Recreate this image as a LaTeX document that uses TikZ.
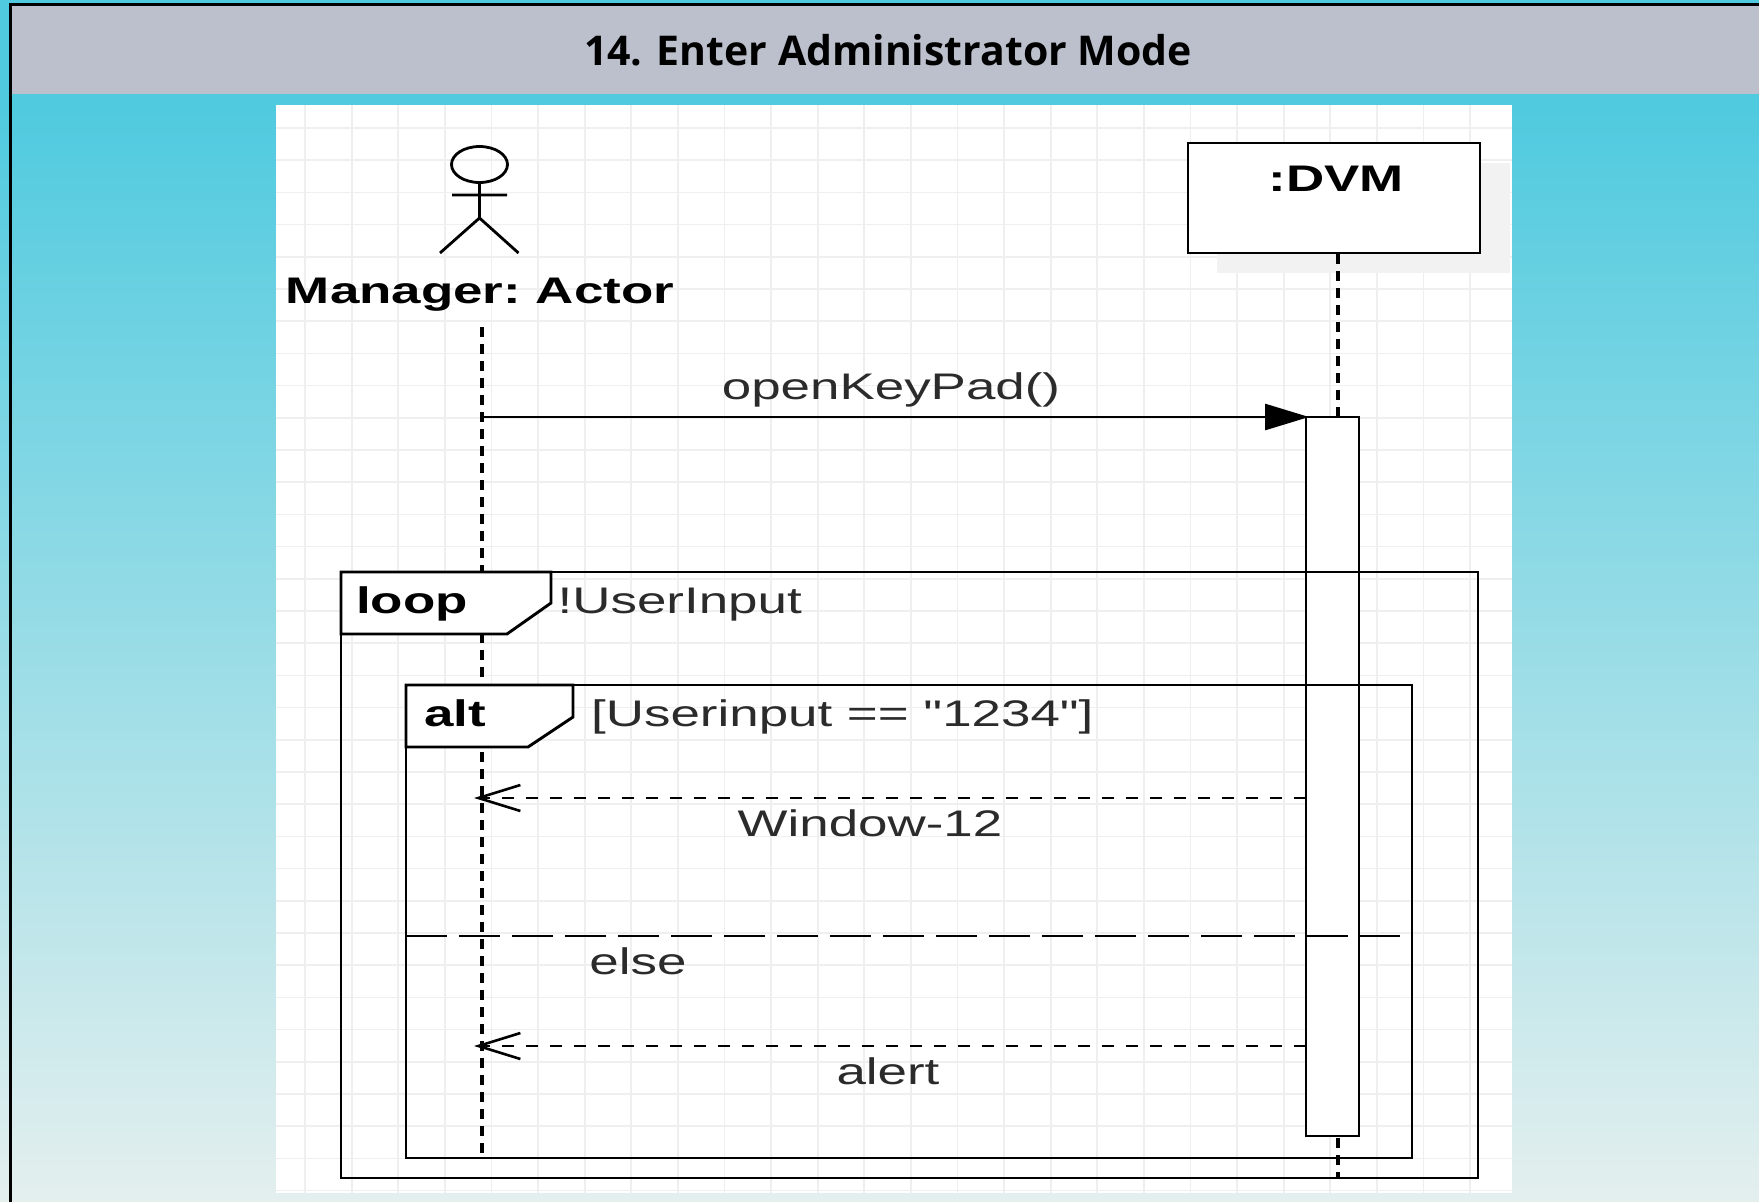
\documentclass[tikz,border=0pt]{standalone}
\usepackage{fontspec}
\setmainfont{Liberation Sans}[FakeStretch=1.43,Ligatures=TeXOff]
\newfontfamily\titlefont{Open Sans}
\usetikzlibrary{arrows.meta}
\definecolor{headgrey}{HTML}{BBC0CC}
\definecolor{skytop}{HTML}{4FCADF}
\definecolor{skybottom}{HTML}{E4EFEE}
\definecolor{gridgrey}{HTML}{EFEFEF}
\definecolor{shadowgrey}{HTML}{F2F2F2}
\definecolor{msggrey}{HTML}{2B2B2B}
\tikzset{
  diagline/.style={line width=2.9pt,black},
  lifeline/.style={line width=4pt,black,dash pattern=on 9.5pt off 7.5pt},
  plaintext/.style={inner sep=0pt,text=msggrey,font=\fontsize{37}{42}\selectfont},
  boldtext/.style={inner sep=0pt,text=black,font=\fontsize{37}{42}\selectfont\bfseries\frenchspacing},
  callmsg/.style={line width=2.8pt,shorten >=-3pt,-{Triangle[length=44pt,width=26pt]}},
  returnmsg/.style={line width=2.6pt,dash pattern=on 12pt off 12pt,-{Straight Barb[length=42pt,width=26pt,line width=2.6pt]}},
  framebox/.style={diagline,draw,rectangle,inner sep=0pt,outer sep=0pt,anchor=north west},
}
\begin{document}
\begin{tikzpicture}[x=1pt,y=-1pt]
      \useasboundingbox (0,0) rectangle (1759,1202);
      \shade[top color=skytop,bottom color=skybottom] (0,100) rectangle (1759,1202);
      \fill[skytop] (0,0) rectangle (1759,101);
      \fill[headgrey] (11,6) rectangle (1759,94);
      \draw[line width=3pt,black] (10,1202) -- (10,4.5) -- (1759,4.5);
      \node[inner sep=0pt,font=\titlefont\fontsize{41}{48}\selectfont\bfseries] (title) at (888,50) {14. Enter Administrator Mode};
      \fill[white] (276,105) rectangle (1512,1193);
      % grid
      \foreach \k [evaluate=\k as \gx using 305+46.6*\k] in {0,...,25}
        \draw[gridgrey,line width=1.8pt] (\gx,105) -- (\gx,1193);
      \foreach \k [evaluate=\k as \gy using 128+32.2*\k] in {0,...,33}
        \draw[gridgrey,line width=1.5pt] (276,\gy) -- (1512,\gy);
      % actor
      \draw[line width=2.8pt] (479.5,164.5) ellipse [x radius=28,y radius=18];
      \draw[line width=2.8pt] (479.5,182.5) -- (479.5,218)
        (452,195) -- (507,195)
        (440,253) -- (479.5,218) -- (518.5,253);
      \node[boldtext,font=\fontsize{37}{42}\selectfont\bfseries\frenchspacing] (manager) at (480,295) {Manager: Actor};
      % dvm box
      \fill[shadowgrey] (1217,163) rectangle (1510,273);
      \node[framebox,fill=white,minimum width=292pt,minimum height=110pt] (dvm) at (1188,143) {};
      \node[boldtext] (dvmlabel) at (1336,179) {:DVM};
      % lifelines
      \coordinate (managertop) at (481.5,327);
      \coordinate (managerend) at (481.5,1158);
      \coordinate (dvmtop) at (1337.5,254);
      \coordinate (dvmend) at (1337.5,1178);
      \draw[lifeline] (managertop) -- (managerend);
      \draw[lifeline] (dvmtop) -- (dvmend);
      % activation
      \node[framebox,fill=white,minimum width=53pt,minimum height=719pt] (bar) at (1306,417) {};
      % frames
      \node[framebox,minimum width=1137pt,minimum height=606pt] (loopframe) at (341,572) {};
      \node[framebox,minimum width=1006pt,minimum height=473pt] (altframe) at (406,685) {};
      \draw[diagline,fill=white] (loopframe.north west) -- (551,572) -- (551,603) -- (507,634) -- (341,634) -- cycle;
      \draw[diagline,fill=white] (altframe.north west) -- (573,685) -- (573,717) -- (528,747) -- (406,747) -- cycle;
      \node[boldtext] (looplabel) at (412,604) {loop};
      \node[boldtext] (altlabel) at (455,713) {alt};
      \node[plaintext,anchor=west] (loopguard) at (557.5,605) {!UserInput};
      \node[plaintext,anchor=west] (altguard) at (591,717) {[Userinput == "1234"]};
      % else
      \coordinate (elsestart) at (406,936);
      \coordinate (elseend) at (1400,936);
      \draw[line width=2.6pt,dash pattern=on 41pt off 12pt] (elsestart) -- (elseend);
      \node[plaintext] (elselabel) at (638,961) {else};
      % messages
      \coordinate (callstart) at (481.5,417);
      \coordinate (window) at (474,798);
      \coordinate (windowstart) at (1306,798);
      \coordinate (alert) at (474,1046);
      \coordinate (alertstart) at (1306,1046);
      \draw[callmsg] (callstart) -- (bar.north west);
      \draw[returnmsg] (windowstart) -- (window);
      \draw[returnmsg] (alertstart) -- (alert);
      \node[plaintext] (calllabel) at (891,390) {openKeyPad()};
      \node[plaintext] (windowlabel) at (870,823) {Window-12};
      \node[plaintext] (alertlabel) at (888,1071) {alert};
    \end{tikzpicture}
\end{document}
